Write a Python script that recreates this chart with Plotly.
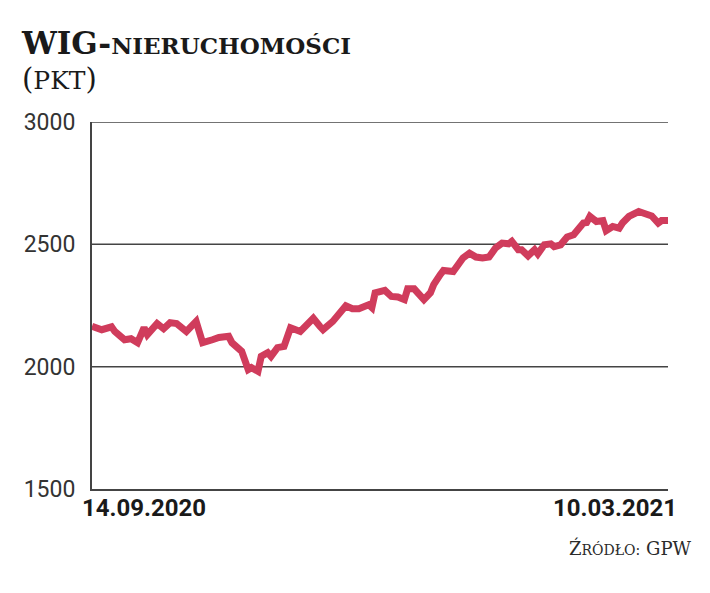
import plotly.graph_objects as go
import pandas as pd

# Colours / fonts
LINE_COLOR = "#d03c5c"
GRID_COLOR = "#444444"
TEXT_COLOR = "#2b2b2b"
SERIF = "DejaVu Serif, Liberation Serif, serif"
SANS = "Roboto, Liberation Sans, sans-serif"

# Data: WIG-nieruchomości, calendar-day offset from 14.09.2020 and index level (pkt)
START_DATE = "2020-09-14"
END_DATE = "2021-03-10"
day_offset = [
    0, 3, 6, 7, 10, 12, 14, 16, 17, 20, 22, 24, 26, 29, 32, 34, 37, 39, 42, 43,
    46, 48, 49, 51, 52, 54, 55, 57, 59, 61, 64, 66, 68, 70, 71, 74, 76, 78, 80, 82,
    85, 86, 87, 90, 92, 94, 96, 97, 99, 101, 102, 104, 105, 107, 108, 111, 112, 114, 116, 118,
    120, 122, 124, 126, 128, 129, 131, 132, 134, 136, 137, 139, 141, 142, 144, 146, 148, 151, 152, 153,
    155, 157, 158, 160, 162, 163, 165, 168, 170, 172, 174, 175, 177,
]
index_value = [
    2165, 2151, 2163, 2144, 2110, 2114, 2098, 2159, 2131, 2176, 2155, 2180, 2176, 2144, 2185, 2098, 2110, 2119, 2124, 2098,
    2063, 1988, 1996, 1981, 2042, 2057, 2042, 2078, 2083, 2159, 2144, 2170, 2198, 2165, 2151, 2185, 2220, 2249, 2237, 2237,
    2253, 2241, 2302, 2312, 2287, 2285, 2274, 2318, 2318, 2285, 2274, 2302, 2335, 2376, 2393, 2389, 2410, 2444, 2464, 2448,
    2444, 2448, 2485, 2505, 2502, 2512, 2478, 2478, 2453, 2478, 2461, 2498, 2502, 2491, 2498, 2530, 2539, 2587, 2589, 2614,
    2593, 2597, 2556, 2573, 2566, 2587, 2614, 2634, 2625, 2616, 2587, 2597, 2597,
]
y_ticks = [1500, 2000, 2500, 3000]
start_label = "14.09.2020"
end_label = "10.03.2021"

dates = pd.Timestamp(START_DATE) + pd.to_timedelta(day_offset, unit="D")

fig = go.Figure()

# horizontal reference lines
for v in y_ticks[1:]:
    fig.add_shape(type="line", xref="paper", yref="y", x0=0, x1=1, y0=v, y1=v,
                  line=dict(color=GRID_COLOR, width=1.5), layer="below")

fig.add_trace(go.Scatter(
    x=dates, y=index_value, mode="lines",
    line=dict(color=LINE_COLOR, width=7, shape="linear"),
    hovertemplate="%{x|%d.%m.%Y}: %{y} pkt<extra></extra>",
    showlegend=False,
))

title_text = (
    "<b><span style='font-size:31px'>WIG-</span><span style='font-size:23px'>NIERUCHOMOŚCI</span></b><br>"
    "<span style='font-size:29px'>(</span><span style='font-size:25px'>PKT</span>"
    "<span style='font-size:29px'>)</span>"
)

annotations = [
    dict(text=title_text, align="left",
         xref="paper", yref="paper", x=-0.127, y=1.27, xanchor="left", yanchor="top",
         showarrow=False, font=dict(family=SERIF, size=27, color="#1a1a1a")),
    dict(text=f"<b>{start_label}</b>", xref="x", yref="paper", x=dates[0], y=0,
         xanchor="left", yanchor="top", xshift=-12, yshift=-3, showarrow=False,
         font=dict(family=SANS, size=24, color="#1a1a1a")),
    dict(text=f"<b>{end_label}</b>", xref="x", yref="paper", x=END_DATE, y=0,
         xanchor="right", yanchor="top", xshift=11, yshift=-3, showarrow=False,
         font=dict(family=SANS, size=24, color="#1a1a1a")),
    dict(text="Ź<span style='font-size:14px'>RÓDŁO:</span> GPW",
         xref="paper", yref="paper", x=1.045, y=-0.16, xanchor="right", yanchor="middle",
         showarrow=False, font=dict(family=SERIF, size=18, color=TEXT_COLOR)),
]

fig.update_layout(
    width=710, height=593,
    margin=dict(l=84, r=50, t=114, b=112),
    paper_bgcolor="white", plot_bgcolor="white",
    annotations=annotations,
    xaxis=dict(range=[START_DATE, END_DATE], showgrid=False, showticklabels=False,
               ticks="", showline=True, linecolor="#444444", linewidth=2, zeroline=False),
    yaxis=dict(range=[1500, 3000], tickvals=y_ticks, showgrid=False, zeroline=False,
               showline=True, linecolor="#444444", linewidth=2, ticks="",
               ticklabelstandoff=10,
               tickfont=dict(family=SANS, size=23, color="#333333")),
)

fig.write_html("out.html")
